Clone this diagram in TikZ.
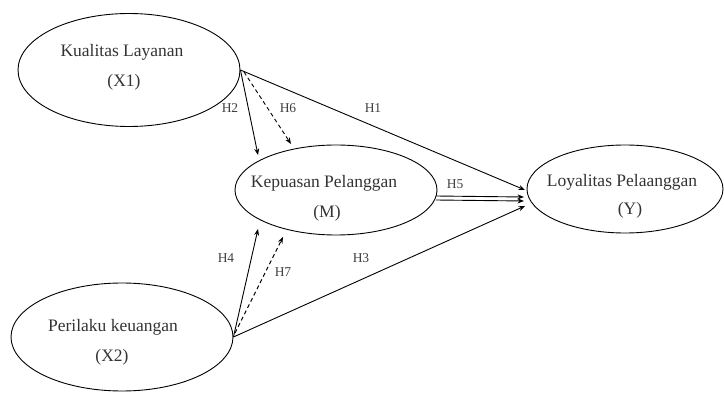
\documentclass[tikz,border=0pt]{standalone}
\usepackage{fontspec}
\setmainfont{Liberation Serif}
\usetikzlibrary{arrows.meta,shapes.geometric}
\begin{document}
\begin{tikzpicture}[x=1pt,y=-1pt,
  var/.style={draw,ellipse,line width=0.9pt,inner sep=0pt,text=black!80},
  lbl/.style={font=\fontsize{13.5}{13.5}\selectfont,text=black!75},
  arr/.style={line width=0.9pt,-{Stealth[length=6.5pt,width=5pt]}},
  dsh/.style={arr,dashed,dash pattern=on 4pt off 3pt}]
\useasboundingbox (0,0) rectangle (724,393);
\node[var,minimum width=222pt,minimum height=113pt] (X1) at (129,70) {};
\node[var,minimum width=202pt,minimum height=90pt] (M) at (336,190) {};
\node[var,minimum width=196pt,minimum height=88pt] (Y) at (625,189) {};
\node[var,minimum width=222pt,minimum height=108pt] (X2) at (122,337) {};
\tikzset{tx/.style={font=\fontsize{17.5}{17.5}\selectfont,text=black!80}}
\node[tx] (t1) at (122,52) {Kualitas Layanan};
\node[tx] (t1b) at (124,82) {(X1)};
\node[tx] (t2) at (324,183) {Kepuasan Pelanggan};
\node[tx] (t2b) at (327,213) {(M)};
\node[tx] (t3) at (622,182) {Loyalitas Pelaanggan};
\node[tx] (t3b) at (630,210) {(Y)};
\node[tx] (t4) at (113,327) {Perilaku keuangan};
\node[tx] (t4b) at (112,357) {(X2)};
\coordinate (s6) at (244,72);
\coordinate (e2) at (258,155);
\coordinate (e6) at (291,144);
\coordinate (e1) at (525,190);
\coordinate (m1) at (436,196);
\coordinate (m2) at (436,200);
\coordinate (e5a) at (524,197);
\coordinate (e5b) at (524,201);
\coordinate (e3) at (525,206);
\coordinate (s7) at (235,333);
\coordinate (e4) at (258,229);
\coordinate (e7) at (283,237);
\draw[arr] (X1.east) -- (e2);
\draw[dsh] (s6) -- (e6);
\draw[arr] (X1.east) -- (e1);
\draw[arr] (m1) -- (e5a);
\draw[arr] (m2) -- (e5b);
\draw[arr] (X2.east) -- (e3);
\draw[arr] (X2.east) -- (e4);
\draw[dsh] (s7) -- (e7);
\node[lbl] (h2) at (230,108) {H2};
\node[lbl] (h6) at (288,108) {H6};
\node[lbl] (h1) at (373,108) {H1};
\node[lbl] (h5) at (455,184) {H5};
\node[lbl] (h4) at (226,258) {H4};
\node[lbl] (h7) at (283,272) {H7};
\node[lbl] (h3) at (361,258) {H3};
\end{tikzpicture}
\end{document}
